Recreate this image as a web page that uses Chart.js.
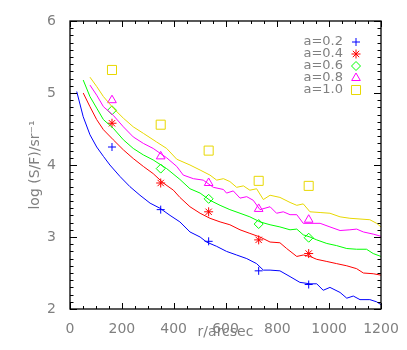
<!DOCTYPE html>
<html>
<head>
<meta charset="utf-8">
<script src="https://cdn.jsdelivr.net/npm/chart.js@4.4.0/dist/chart.umd.min.js"></script>
<style>
html, body { margin: 0; padding: 0; background: #fff; }
#wrap { width: 407px; height: 350px; }
</style>
</head>
<body>
<div id="wrap"><canvas id="chart"></canvas></div>
<script>
// curves: radius (arcsec) and log(S/F) for each a
var rA02 = [26, 51, 77, 103, 129, 154, 193, 231, 270, 309, 347, 386, 424, 463, 502, 527, 566, 604, 643, 682, 720, 746, 772, 810, 849, 887, 926, 952, 977, 1003, 1042, 1068, 1093, 1119, 1157, 1183, 1200];
var vA02 = [5.02, 4.67, 4.42, 4.25, 4.12, 4.00, 3.84, 3.70, 3.58, 3.47, 3.40, 3.30, 3.21, 3.07, 3.00, 2.93, 2.87, 2.80, 2.75, 2.70, 2.63, 2.54, 2.54, 2.53, 2.45, 2.37, 2.35, 2.35, 2.26, 2.30, 2.23, 2.15, 2.18, 2.13, 2.13, 2.10, 2.06];

var rA04 = [51, 77, 103, 129, 167, 206, 244, 283, 321, 360, 399, 424, 463, 502, 540, 579, 617, 656, 694, 733, 772, 810, 836, 875, 900, 926, 952, 991, 1029, 1068, 1106, 1132, 1170, 1200];
var vA04 = [5.00, 4.81, 4.63, 4.49, 4.35, 4.21, 4.09, 3.98, 3.88, 3.75, 3.65, 3.55, 3.42, 3.33, 3.26, 3.21, 3.17, 3.10, 3.05, 3.00, 2.93, 2.92, 2.84, 2.73, 2.75, 2.73, 2.69, 2.66, 2.63, 2.60, 2.56, 2.50, 2.49, 2.47];

var rA06 = [51, 77, 103, 129, 167, 206, 244, 283, 321, 373, 424, 463, 502, 540, 579, 617, 656, 694, 733, 772, 810, 849, 875, 900, 926, 952, 991, 1029, 1068, 1106, 1144, 1170, 1200];
var vA06 = [5.18, 4.95, 4.79, 4.63, 4.51, 4.35, 4.23, 4.14, 4.07, 3.95, 3.80, 3.67, 3.61, 3.51, 3.44, 3.38, 3.33, 3.28, 3.21, 3.17, 3.14, 3.10, 3.11, 3.03, 3.00, 2.96, 2.91, 2.88, 2.84, 2.83, 2.83, 2.77, 2.73];

var rA08 = [77, 103, 129, 167, 206, 244, 283, 321, 373, 412, 437, 476, 514, 553, 592, 604, 630, 656, 682, 707, 733, 772, 797, 823, 849, 875, 900, 926, 965, 1003, 1042, 1080, 1106, 1132, 1170, 1200];
var vA08 = [5.11, 4.97, 4.81, 4.69, 4.53, 4.39, 4.30, 4.23, 4.10, 3.98, 3.86, 3.81, 3.79, 3.69, 3.66, 3.61, 3.64, 3.54, 3.56, 3.51, 3.38, 3.42, 3.33, 3.35, 3.31, 3.31, 3.19, 3.19, 3.19, 3.14, 3.09, 3.10, 3.11, 3.07, 3.04, 3.01];

var rA10 = [77, 103, 129, 167, 206, 244, 283, 334, 373, 412, 463, 502, 540, 566, 592, 617, 643, 669, 694, 720, 746, 772, 810, 849, 875, 900, 926, 965, 1003, 1042, 1080, 1119, 1157, 1183, 1200];
var vA10 = [5.22, 5.09, 4.95, 4.79, 4.65, 4.53, 4.44, 4.32, 4.23, 4.08, 4.00, 3.93, 3.86, 3.79, 3.81, 3.77, 3.69, 3.71, 3.65, 3.67, 3.52, 3.58, 3.55, 3.48, 3.44, 3.46, 3.35, 3.34, 3.33, 3.28, 3.26, 3.25, 3.24, 3.19, 3.14];

// measured points
var rPts = [162, 350, 535, 728, 921];
var pA02 = [4.25, 3.38, 2.94, 2.53, 2.34];
var pA04 = [4.58, 3.75, 3.35, 2.96, 2.77];
var pA06 = [4.76, 3.95, 3.53, 3.18, 2.99];
var pA08 = [4.90, 4.12, 3.75, 3.39, 3.24];
var pA10 = [5.32, 4.56, 4.20, 3.78, 3.71];

var labels = ['a=0.2', 'a=0.4', 'a=0.6', 'a=0.8', 'a=1.0'];
var colors = ['#0000ff', '#ff0000', '#00ff00', '#ff00ff', '#e8d800'];
var styles = ['cross', 'star', 'rectRot', 'triangle', 'rect'];
var sizes = [4, 4.5, 4.5, 5, 6.4];

function pairs(xs, ys) {
    return xs.map(function (x, i) { return {x: x, y: ys[i]}; });
}

var curves = [[rA02, vA02], [rA04, vA04], [rA06, vA06], [rA08, vA08], [rA10, vA10]];
var points = [pA02, pA04, pA06, pA08, pA10];

var datasets = [];
for (let i = 0; i < 5; i++) {
    datasets.push({
        type: 'line',
        data: pairs(curves[i][0], curves[i][1]),
        borderColor: colors[i],
        borderWidth: 1,
        pointRadius: 0,
        tension: 0,
        fill: false
    });
}
for (let i = 0; i < 5; i++) {
    datasets.push({
        type: 'scatter',
        label: labels[i],
        data: pairs(rPts, points[i]),
        borderColor: colors[i],
        backgroundColor: 'rgba(0,0,0,0)',
        borderWidth: 1,
        pointStyle: styles[i],
        pointRadius: sizes[i],
        pointHoverRadius: sizes[i],
        showLine: false
    });
}

// box with inward ticks on all four sides
const frameTicks = {
    id: 'frameTicks',
    afterDatasetsDraw(chart) {
        const {ctx, chartArea: a, scales: {x, y}} = chart;
        ctx.save();
        ctx.strokeStyle = '#000';
        ctx.lineWidth = 1;
        ctx.beginPath();
        for (let v = 0; v <= 1200; v += 50) {
            const px = Math.round(x.getPixelForValue(v)) + 0.5;
            const len = v % 200 === 0 ? 6 : 3;
            ctx.moveTo(px, a.bottom); ctx.lineTo(px, a.bottom - len);
            ctx.moveTo(px, a.top); ctx.lineTo(px, a.top + len);
        }
        for (let k = 20; k <= 60; k++) {
            const py = Math.round(y.getPixelForValue(k / 10)) + 0.5;
            const len = k % 10 === 0 ? 7 : 3.5;
            ctx.moveTo(a.left, py); ctx.lineTo(a.left + len, py);
            ctx.moveTo(a.right, py); ctx.lineTo(a.right - len, py);
        }
        ctx.stroke();
        ctx.lineWidth = 1.3;
        ctx.strokeRect(a.left, a.top, a.right - a.left, a.bottom - a.top);
        ctx.restore();
    }
};

// legend: text then symbol, top right inside the box
const legendBox = {
    id: 'legendBox',
    afterDraw(chart) {
        const ctx = chart.ctx;
        ctx.save();
        ctx.font = '13px "DejaVu Sans"';
        ctx.textAlign = 'right';
        ctx.textBaseline = 'middle';
        for (let i = 0; i < 5; i++) {
            const ds = chart.data.datasets[5 + i];
            const yy = 42 + i * 12;
            ctx.fillStyle = '#808080';
            ctx.fillText(ds.label, 343, yy);
            ctx.fillStyle = 'rgba(0,0,0,0)';
            ctx.strokeStyle = ds.borderColor;
            ctx.lineWidth = 1;
            Chart.helpers.drawPoint(ctx, {pointStyle: ds.pointStyle, radius: ds.pointRadius, borderWidth: 1, rotation: 0}, 356, yy);
        }
        ctx.restore();
    }
};

var tickFont = {family: 'DejaVu Sans', size: 14};

new Chart(document.getElementById('chart'), {
    data: {datasets: datasets},
    options: {
        responsive: true,
        maintainAspectRatio: false,
        animation: false,
        layout: {padding: {top: 21, right: 26, left: 0, bottom: 0}},
        plugins: {
            legend: {display: false},
            tooltip: {enabled: false}
        },
        scales: {
            x: {
                type: 'linear',
                min: 0,
                max: 1200,
                grid: {display: false},
                border: {display: false},
                ticks: {
                    stepSize: 200, color: '#808080', font: tickFont, padding: 4, maxRotation: 0,
                    callback: function (v) { return String(v); }
                },
                title: {display: true, text: 'r/arcsec', color: '#808080', font: tickFont, padding: {top: 0, bottom: 9}},
                afterFit: function (s) { s.height = 41; }
            },
            y: {
                type: 'linear',
                min: 2,
                max: 6,
                grid: {display: false},
                border: {display: false},
                ticks: {stepSize: 1, color: '#808080', font: tickFont, padding: 6},
                title: {display: true, text: 'log (S/F)/sr\u207B\u00B9', color: '#808080', font: tickFont, padding: {top: 27, bottom: 0}},
                afterFit: function (s) { s.width = 70; }
            }
        }
    },
    plugins: [frameTicks, legendBox]
});
</script>
</body>
</html>
